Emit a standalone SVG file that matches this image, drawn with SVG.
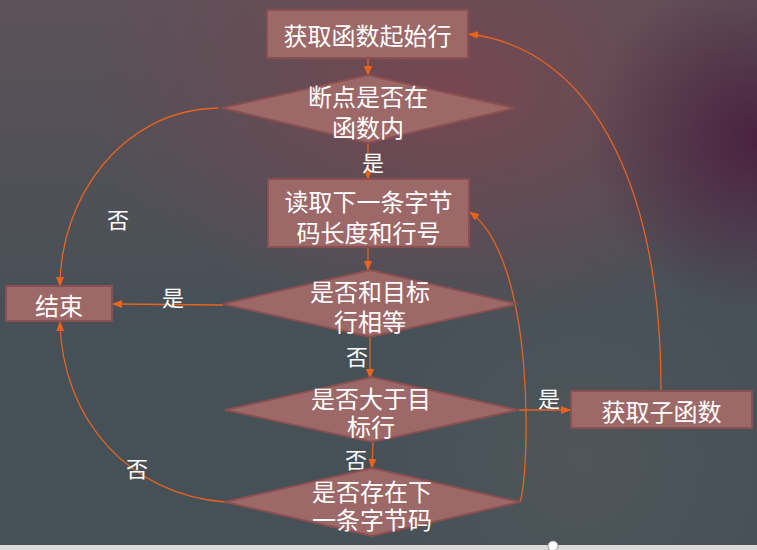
<svg xmlns="http://www.w3.org/2000/svg" width="757" height="550" viewBox="0 0 757 550">
<defs>
<linearGradient id="gTop" x1="0" y1="0" x2="0" y2="330" gradientUnits="userSpaceOnUse">
<stop offset="0" stop-color="#605259" stop-opacity="0.9"/>
<stop offset="0.5" stop-color="#5a5157" stop-opacity="0.55"/>
<stop offset="1" stop-color="#5a5157" stop-opacity="0"/>
</linearGradient>
<radialGradient id="gRed" cx="450" cy="90" r="300" gradientUnits="userSpaceOnUse" gradientTransform="translate(450 90) scale(1.2 0.8) translate(-450 -90)">
<stop offset="0" stop-color="#7e4550" stop-opacity="0.85"/>
<stop offset="0.55" stop-color="#704852" stop-opacity="0.5"/>
<stop offset="1" stop-color="#704852" stop-opacity="0"/>
</radialGradient>
<radialGradient id="gPur" cx="757" cy="140" r="170" gradientUnits="userSpaceOnUse">
<stop offset="0" stop-color="#4a1f3e" stop-opacity="0.95"/>
<stop offset="1" stop-color="#4a1f3e" stop-opacity="0"/>
</radialGradient>
<radialGradient id="gLow" cx="580" cy="460" r="220" gradientUnits="userSpaceOnUse">
<stop offset="0" stop-color="#565b5e" stop-opacity="0.55"/>
<stop offset="1" stop-color="#565b5e" stop-opacity="0"/>
</radialGradient>
<marker id="ah" markerWidth="10" markerHeight="8" refX="9" refY="4" orient="auto" markerUnits="userSpaceOnUse">
<path d="M0,0 L10,4 L0,8 Z" fill="#e8631e"/>
</marker>
<style>
.n{fill:#9d6868;stroke:#8a5050;stroke-width:2}
.t{font-family:"Noto Sans CJK SC","Microsoft YaHei",sans-serif;font-size:24px;fill:#ffffff;text-anchor:middle;dominant-baseline:central}
.l{font-family:"Noto Sans CJK SC",sans-serif;font-size:22px;fill:#ffffff;text-anchor:middle;dominant-baseline:central}
.c{fill:none;stroke:#e8631e;stroke-width:1.3;marker-end:url(#ah)}
</style>
</defs>
<g id="background">
<rect x="0" y="0" width="757" height="550" fill="#465057"/>
<rect x="0" y="0" width="757" height="550" fill="url(#gLow)"/>
<rect x="0" y="0" width="757" height="550" fill="url(#gTop)"/>
<rect x="0" y="0" width="757" height="550" fill="url(#gRed)"/>
<rect x="0" y="0" width="757" height="550" fill="url(#gPur)"/>
<rect x="0" y="545" width="757" height="5" fill="#d9d9d9"/>
<circle cx="553" cy="546" r="5" fill="#ffffff" stroke="#9a9a9a" stroke-width="1"/>
</g>
<g id="connectors">
<path class="c" d="M368,58 L368,75"/>
<path class="c" d="M368,143 L368,179"/>
<path class="c" d="M368,247 L368,270"/>
<path class="c" d="M223,305 L113,304"/>
<path class="c" d="M370,337 L370,378"/>
<path class="c" d="M373,442 L372,468"/>
<path class="c" d="M519,410 L570,410"/>
<path class="c" d="M218,108 C120,110 60,200 60,286"/>
<path class="c" d="M225,502 C130,495 62,420 60,322"/>
<path class="c" d="M520,502 C530,470 536,260 470,212"/>
<path class="c" d="M661,390 C661,200 600,50 469,34"/>
</g>
<g id="labels">
<text class="l" x="373" y="161">是</text>
<text class="l" x="118" y="218">否</text>
<text class="l" x="173" y="296">是</text>
<text class="l" x="357" y="355">否</text>
<text class="l" x="356" y="458">否</text>
<text class="l" x="137" y="467">否</text>
<text class="l" x="549" y="397">是</text>
</g>
<g id="n1">
<rect class="n" x="267" y="10" width="201" height="48"/>
<text class="t" x="367.5" y="34">获取函数起始行</text>
</g>
<g id="n2">
<polygon class="n" points="368,75 515,108 368,143 222,108"/>
<text class="t" x="368" y="95">断点是否在</text>
<text class="t" x="368" y="126">函数内</text>
</g>
<g id="n3">
<rect class="n" x="268" y="179" width="201" height="68"/>
<text class="t" x="368.5" y="200">读取下一条字节</text>
<text class="t" x="368.5" y="231">码长度和行号</text>
</g>
<g id="n4">
<polygon class="n" points="370,270 518,304 370,337 223,304"/>
<text class="t" x="370" y="290">是否和目标</text>
<text class="t" x="370" y="320">行相等</text>
</g>
<g id="n5">
<rect class="n" x="6" y="286" width="106" height="35"/>
<text class="t" x="59" y="304">结束</text>
</g>
<g id="n6">
<polygon class="n" points="372,377 518,410 372,442 225,410"/>
<text class="t" x="371" y="397">是否大于目</text>
<text class="t" x="371" y="425">标行</text>
</g>
<g id="n7">
<rect class="n" x="571" y="391" width="181" height="37"/>
<text class="t" x="661.5" y="410">获取子函数</text>
</g>
<g id="n8">
<polygon class="n" points="372,468 520,502 372,536 225,502"/>
<text class="t" x="372" y="490">是否存在下</text>
<text class="t" x="372" y="518">一条字节码</text>
</g>
</svg>
